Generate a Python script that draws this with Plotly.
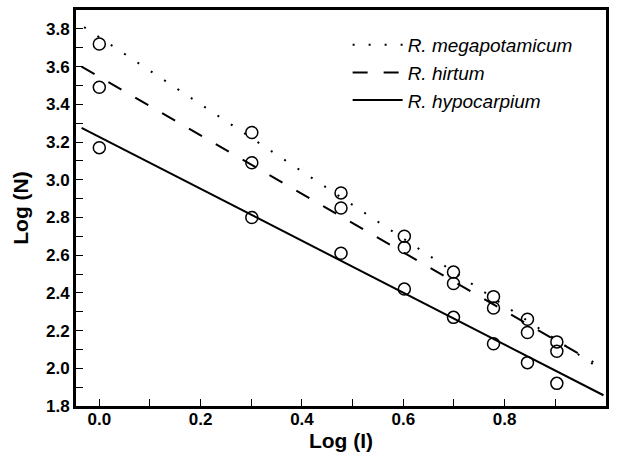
import plotly.graph_objects as go

# Data
log_i = [0.0, 0.301, 0.477, 0.602, 0.699, 0.778, 0.845, 0.903]
megapotamicum = [3.72, 3.25, 2.93, 2.70, 2.51, 2.38, 2.26, 2.14]
hirtum = [3.49, 3.09, 2.85, 2.64, 2.45, 2.32, 2.19, 2.09]
hypocarpium = [3.17, 2.80, 2.61, 2.42, 2.27, 2.13, 2.03, 1.92]

# Fitted regression lines: endpoints
mega_fit_x = [-0.03, 0.975]
mega_fit_y = [3.809, 2.021]
hirtum_fit_x = [-0.035, 0.975]
hirtum_fit_y = [3.60, 2.033]
hypo_fit_x = [-0.035, 0.995]
hypo_fit_y = [3.275, 1.857]

names = ["R. megapotamicum", "R. hirtum", "R. hypocarpium"]

fig = go.Figure()

lines = [
    (mega_fit_x, mega_fit_y, "2px,14px", names[0]),
    (hirtum_fit_x, hirtum_fit_y, "15px,16px", names[1]),
    (hypo_fit_x, hypo_fit_y, "solid", names[2]),
]
for xs, ys, dash, nm in lines:
    fig.add_trace(go.Scatter(
        x=xs, y=ys, mode="lines", name=nm,
        line=dict(color="black", width=2, dash=dash),
        showlegend=True,
    ))

for ys in (megapotamicum, hirtum, hypocarpium):
    fig.add_trace(go.Scatter(
        x=log_i, y=ys, mode="markers", showlegend=False,
        marker=dict(symbol="circle-open", size=12, color="black",
                    line=dict(width=1.5, color="black")),
    ))

axis_common = dict(
    showline=True, linecolor="black", linewidth=3, mirror=True,
    ticks="inside", ticklen=7, tickwidth=1.2, tickcolor="black",
    showgrid=False, zeroline=False, automargin=False,
    tickfont=dict(family="Liberation Sans, Arial, sans-serif", size=17,
                  color="black", weight="bold"),
    title_font=dict(family="Liberation Sans, Arial, sans-serif", size=21,
                    color="black", weight="bold"),
)

fig.update_xaxes(
    range=[-0.046, 1.0], dtick=0.2, tick0=0, tickformat=".1f",
    minor=dict(dtick=0.1, tick0=0, ticks="inside", ticklen=7,
               tickwidth=1.2, tickcolor="black"),
    ticklabelstandoff=-4,
    title_text="Log (I)", title_standoff=2,
    **axis_common,
)
fig.update_yaxes(
    range=[1.8, 3.9], dtick=0.2, tick0=1.8, tickformat=".1f",
    minor=dict(dtick=0.1, tick0=1.8, ticks="inside", ticklen=7,
               tickwidth=1.2, tickcolor="black"),
    title_text="Log (N)", title_standoff=12,
    **axis_common,
)

fig.update_layout(
    width=617, height=459,
    margin=dict(l=76, r=11, t=10, b=53),
    plot_bgcolor="white", paper_bgcolor="white",
    legend=dict(
        x=0.5125, y=0.96, xanchor="left", yanchor="top",
        bgcolor="rgba(0,0,0,0)", borderwidth=0,
        itemwidth=50,
        font=dict(family="Liberation Sans, Arial, sans-serif", size=19,
                  color="black", style="italic"),
    ),
)

fig.write_html(
    "out.html",
    config={"displayModeBar": False},
    post_script="document.body.style.margin='0';document.body.style.overflow='hidden';",
)
